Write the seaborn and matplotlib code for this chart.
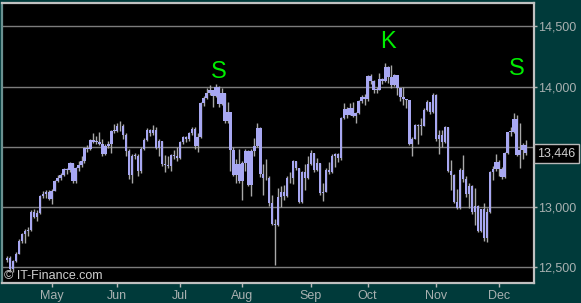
import numpy as np
import pandas as pd
import matplotlib
matplotlib.use("Agg")
import matplotlib.pyplot as plt
import matplotlib.transforms as mtransforms
import seaborn as sns

# ---------------- data ----------------
start_date, end_date = "2007-04-10", "2007-12-14"
holidays = ["2007-05-28", "2007-07-04", "2007-09-03", "2007-11-22"]

opens = [
    12560, 12573, 12484, 12553, 12613, 12720, 12774, 12803, 12808, 12961, 12919, 12953, 13089, 13105, 13121,
    13063, 13136, 13212, 13241, 13265, 13313, 13309, 13362, 13215, 13327, 13347, 13383, 13487, 13477, 13556, 13542, 13539, 13525, 13441, 13507, 13521, 13633,
    13628, 13668, 13676, 13595, 13465, 13266, 13424, 13424, 13295, 13482, 13553, 13639, 13612, 13635, 13489, 13545, 13360, 13352, 13337, 13427, 13422,
    13408, 13535, 13577, 13565, 13611, 13650, 13502, 13577, 13861, 13907, 13950, 13971, 13918, 14000, 13851, 13943, 13716, 13785, 13473, 13265, 13358,
    13212, 13362, 13463, 13182, 13468, 13504, 13658, 13271, 13240, 13236, 13029, 12861, 12846, 13079, 13121, 13091, 13236, 13236, 13379, 13322, 13042, 13289, 13239,
    13358, 13448, 13306, 13364, 13113, 13127, 13308, 13292, 13424, 13442, 13403, 13739, 13816, 13767, 13821, 13759, 13779, 13878, 13913,
    13896, 14088, 14047, 13968, 13975, 14066, 14044, 14165, 14079, 14015, 14093, 13985, 13913, 13893, 13889, 13522, 13567, 13677, 13676, 13672, 13807, 13870, 13792,
    13930, 13567, 13595, 13543, 13661, 13300, 13266, 13043, 12988, 13308, 13232, 13111, 13177, 12958, 13011, 12800, 12981, 12744, 12959, 13289, 13312,
    13372, 13315, 13249, 13445, 13620, 13626, 13727, 13433, 13474, 13518,
]
highs = [
    12590, 12590, 12560, 12625, 12730, 12785, 12820, 12830, 12975, 12985, 12975, 13100, 13130, 13140, 13140,
    13145, 13225, 13265, 13285, 13320, 13325, 13370, 13365, 13335, 13380, 13420, 13495, 13510, 13565, 13610, 13590, 13625, 13560, 13520, 13545, 13640, 13690,
    13700, 13710, 13690, 13610, 13480, 13440, 13450, 13440, 13495, 13570, 13655, 13650, 13680, 13660, 13560, 13550, 13430, 13420, 13440, 13470, 13500,
    13545, 13590, 13590, 13625, 13665, 13660, 13610, 13870, 13920, 13990, 14010, 13975, 14022, 14005, 13990, 13950, 13870, 13790, 13500, 13400, 13480,
    13380, 13480, 13470, 13480, 13570, 13700, 13660, 13360, 13400, 13260, 13100, 12900, 13160, 13170, 13180, 13260, 13290, 13390, 13385, 13325, 13300, 13360, 13420,
    13470, 13450, 13410, 13365, 13200, 13320, 13370, 13440, 13450, 13445, 13750, 13860, 13830, 13860, 13870, 13790, 13890, 13930, 13940,
    14095, 14100, 14050, 14000, 14110, 14070, 14198, 14170, 14180, 14105, 14095, 13990, 14000, 13900, 13890, 13580, 13690, 13690, 13740, 13820, 13890, 13875, 13950,
    13935, 13640, 13640, 13670, 13665, 13390, 13270, 13150, 13320, 13430, 13260, 13200, 13180, 13160, 13015, 12985, 13030, 12990, 13300, 13340, 13440,
    13390, 13330, 13460, 13625, 13660, 13783, 13760, 13700, 13530, 13555,
]
lows = [
    12545, 12470, 12460, 12540, 12610, 12700, 12700, 12760, 12800, 12905, 12880, 12945, 13070, 13070, 13055,
    13020, 13130, 13205, 13225, 13255, 13270, 13290, 13200, 13200, 13300, 13330, 13365, 13460, 13470, 13530, 13520, 13515, 13420, 13430, 13490, 13450, 13615,
    13620, 13630, 13560, 13420, 13230, 13200, 13400, 13260, 13280, 13475, 13545, 13590, 13600, 13480, 13420, 13340, 13290, 13320, 13300, 13400, 13380,
    13400, 13520, 13540, 13550, 13600, 13480, 13460, 13570, 13840, 13900, 13930, 13830, 13910, 13830, 13850, 13700, 13700, 13300, 13260, 13200, 13200,
    13060, 13300, 13170, 13090, 13420, 13495, 13250, 13100, 13220, 13010, 12850, 12518, 12840, 13000, 13060, 13080, 13200, 13190, 13310, 13030, 13030, 13140, 13230,
    13350, 13290, 13300, 13100, 13050, 13120, 13270, 13285, 13330, 13370, 13390, 13730, 13740, 13760, 13745, 13700, 13770, 13860, 13850,
    13880, 14020, 13950, 13950, 13970, 14020, 14040, 14030, 13990, 14005, 13930, 13880, 13850, 13820, 13510, 13420, 13560, 13520, 13600, 13670, 13800, 13770, 13780,
    13550, 13440, 13500, 13530, 13290, 13140, 13030, 12980, 12980, 13210, 13080, 12990, 12940, 12850, 12790, 12790, 12720, 12710, 12950, 13220, 13300,
    13260, 13230, 13240, 13440, 13590, 13610, 13420, 13320, 13400, 13430,
]
closes = [
    12573, 12484, 12553, 12613, 12720, 12774, 12803, 12808, 12961, 12919, 12953, 13089, 13105, 13121, 13063,
    13136, 13212, 13241, 13265, 13313, 13309, 13362, 13215, 13327, 13347, 13383, 13487, 13477, 13556, 13542, 13539, 13525, 13441, 13507, 13521, 13633, 13628,
    13668, 13676, 13595, 13465, 13266, 13424, 13424, 13295, 13482, 13553, 13639, 13612, 13635, 13489, 13545, 13360, 13352, 13337, 13427, 13422, 13408,
    13535, 13577, 13565, 13611, 13650, 13502, 13577, 13861, 13907, 13950, 13971, 13918, 14000, 13851, 13943, 13716, 13785, 13473, 13265, 13358, 13212,
    13362, 13463, 13182, 13468, 13504, 13658, 13271, 13240, 13236, 13029, 12861, 12846, 13079, 13121, 13091, 13236, 13236, 13379, 13322, 13042, 13289, 13239, 13358,
    13448, 13306, 13364, 13113, 13127, 13308, 13292, 13424, 13442, 13403, 13739, 13816, 13767, 13821, 13759, 13779, 13878, 13913, 13896,
    14088, 14047, 13968, 13975, 14066, 14044, 14165, 14079, 14015, 14093, 13985, 13913, 13893, 13889, 13522, 13567, 13677, 13676, 13672, 13807, 13870, 13792, 13930,
    13567, 13595, 13543, 13661, 13300, 13266, 13043, 12988, 13308, 13232, 13111, 13177, 12958, 13011, 12800, 12981, 12744, 12959, 13289, 13312, 13372,
    13315, 13249, 13445, 13620, 13626, 13727, 13433, 13474, 13518, 13446,
]

y_ticks = [12500, 13000, 13500, 14000, 14500]
y_labels = ["12,500", "13,000", "", "14,000", "14,500"]
last_price = 13446
marker_texts = ["S", "K", "S"]
marker_dates = ["2007-07-20", "2007-10-10", "2007-12-11"]
marker_values = [14123, 14370, 14147]
copyright_text = "\u00a9 IT-Finance.com"

# ---------------- build table ----------------
dates = pd.bdate_range(start_date, end_date)
dates = dates[~dates.isin(pd.to_datetime(holidays))]
df = pd.DataFrame({"date": dates, "open": opens, "high": highs,
                   "low": lows, "close": closes})
df["pos"] = np.arange(len(df))
month_first = df.groupby(df["date"].dt.to_period("M"))["pos"].min()
month_first = month_first[month_first.index.month != 4]
month_labels = [p.strftime("%b") for p in month_first.index]

# ---------------- style ----------------
sns.set_theme(style="dark")
plt.rcParams["font.family"] = ["Liberation Sans", "DejaVu Sans"]

BG = "#003a3a"
BODY = "#a8a8f2"
WICK = "#a8a8a8"
GRID = "#7c7c7c"
TXT = "#a8b0b0"

W, H = 581, 303
fig = plt.figure(figsize=(W / 100, H / 100), dpi=100, facecolor=BG)
ax = fig.add_axes([2 / W, 20 / H, 532 / W, 280.3 / H], facecolor="black")

# wicks
ax.vlines(df["pos"], df["low"], df["high"], color=WICK, lw=1.0, zorder=2)
# bodies
bottom = np.minimum(df["open"], df["close"])
height = np.maximum(np.abs(df["close"] - df["open"]), 8)
ax.bar(df["pos"], height, bottom=bottom, width=0.82, color=BODY,
       linewidth=0, zorder=3)

ax.set_xlim(-1.68, 176.85)
ax.set_ylim(12368, 14696)

ax.set_yticks(y_ticks)
ax.set_yticklabels(y_labels)
ax.yaxis.tick_right()
ax.set_xticks(month_first.values)
ax.set_xticklabels(month_labels)

ax.grid(axis="y", color=GRID, lw=1.0, zorder=1)
ax.grid(axis="x", visible=False)
ax.set_axisbelow(True)

ax.tick_params(axis="y", which="both", right=True, left=False, length=2,
               width=1, color="#b8b8b8", pad=1, labelsize=9, labelcolor=TXT)
ax.tick_params(axis="x", which="both", bottom=True, length=3, width=1,
               color="#b8b8b8", pad=2, labelsize=9, labelcolor=TXT)
for side, sp in ax.spines.items():
    sp.set_visible(True)
    sp.set_color("#c0c0c0")
    sp.set_linewidth(1.6)
ax.spines["left"].set_color("#6a9090")

# S / K markers
for t, d, v in zip(marker_texts, marker_dates, marker_values):
    xpos = df.loc[df["date"] == pd.Timestamp(d), "pos"].iloc[0]
    ax.text(xpos, v, t, color="#00ee00", fontsize=17, ha="center",
            va="center", zorder=5)

# last price box
trans = mtransforms.blended_transform_factory(ax.transAxes, ax.transData)
ax.text(1.0065, last_price, f"{last_price:,}", transform=trans, ha="left",
        va="center", fontsize=9, color="#d0d0d0", clip_on=False,
        bbox=dict(boxstyle="square,pad=0.28", fc="black", ec="#b8b8b8", lw=1))

# copyright
ax.text(0.004, 0.026, copyright_text, transform=ax.transAxes, ha="left",
        va="center", fontsize=9, color="#d0d0d0", zorder=6)

fig.savefig("out.png", dpi=100, facecolor=BG)
